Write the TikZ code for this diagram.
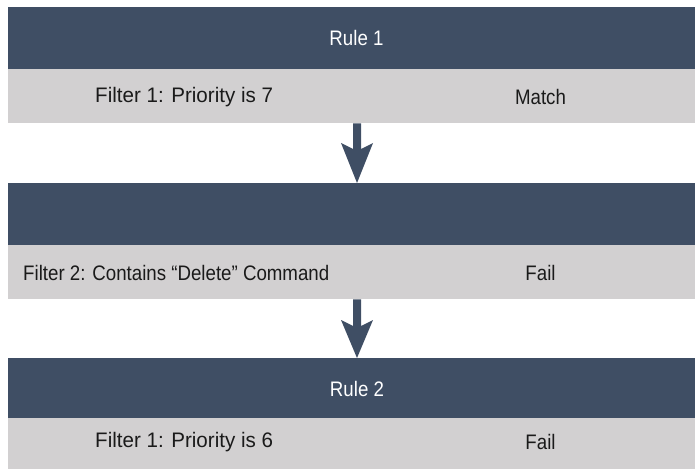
\documentclass[tikz,border=0pt]{standalone}
\usepackage{fontspec}
\setmainfont{Liberation Sans}[FakeStretch=0.89]
\usetikzlibrary{calc}
\definecolor{bandDark}{HTML}{3F4E64}
\definecolor{bandLight}{HTML}{D2D0D1}
\definecolor{txtDark}{HTML}{1A1A1A}
\begin{document}
\begin{tikzpicture}[x=1pt,y=-1pt,
  dband/.style={fill=bandDark, draw=none, anchor=north west, inner sep=0pt, minimum width=687pt},
  lband/.style={fill=bandLight, draw=none, anchor=north west, inner sep=0pt, minimum width=687pt},
  hdtext/.style={text=white, inner sep=0pt, font=\fontsize{21}{25}\selectfont},
  rowtext/.style={text=txtDark, inner sep=0pt, font=\fontsize{21}{25}\selectfont},
  arrowfill/.style={fill=bandDark, draw=none}]
\useasboundingbox (0,0) rectangle (695,470);
% bands
\node[dband, minimum height=62pt] (d1) at (8,7) {};
\node[lband, minimum height=54pt] (l1) at (8,69) {};
\node[dband, minimum height=62pt] (d2) at (8,183) {};
\node[lband, minimum height=54pt] (l2) at (8,245) {};
\node[dband, minimum height=60pt] (d3) at (8,358) {};
\node[lband, minimum height=51pt] (l3) at (8,418) {};
% texts
\node[hdtext] (r1) at (356.5,38) {Rule 1};
\node[rowtext, anchor=west] (f1) at (95,97) {\scalebox{1.1}[1]{Filter 1: Priority is 7}};
\node[rowtext] (m1) at (540.5,97) {Match};
\node[rowtext, anchor=west] (f2) at (23,273) {Filter 2: Contains “Delete” Command};
\node[rowtext] (m2) at (540.5,273) {Fail};
\node[hdtext] (r2) at (357,389) {Rule 2};
\node[rowtext, anchor=west] (f3) at (95,442) {\scalebox{1.1}[1]{Filter 1: Priority is 6}};
\node[rowtext] (m3) at (540.5,442) {Fail};
% arrows
\coordinate (ax) at (357,0);
\coordinate (t1) at (l1.south -| ax);
\coordinate (b1) at (d2.north -| ax);
\coordinate (t2) at (l2.south -| ax);
\coordinate (b2) at (d3.north -| ax);
\fill[arrowfill] ($(t1)+(-4,0)$) -- ($(b1)+(-4,-34)$) -- ($(b1)+(-16,-40)$) -- (b1)
  -- ($(b1)+(16,-40)$) -- ($(b1)+(4,-34)$) -- ($(t1)+(4,0)$) -- cycle;
\fill[arrowfill] ($(t2)+(-4,0)$) -- ($(b2)+(-4,-32)$) -- ($(b2)+(-16,-38)$) -- (b2)
  -- ($(b2)+(16,-38)$) -- ($(b2)+(4,-32)$) -- ($(t2)+(4,0)$) -- cycle;
\end{tikzpicture}
\end{document}
